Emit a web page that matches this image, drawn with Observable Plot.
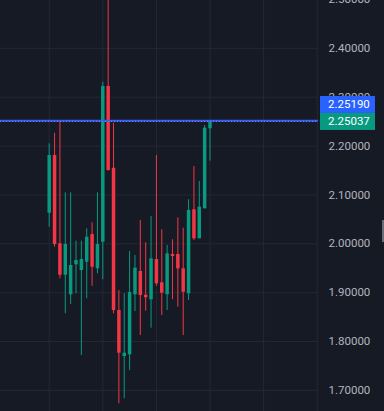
<!DOCTYPE html>
<html><head><meta charset="utf-8">
<script src="https://cdn.jsdelivr.net/npm/d3@7"></script>
<script src="https://cdn.jsdelivr.net/npm/@observablehq/plot@0.6"></script>
<style>
html,body{margin:0;padding:0;background:#161a25;}
#chart{position:relative;width:384px;height:411px;overflow:hidden;}
#handle{position:absolute;left:382px;top:220px;width:2px;height:22px;background:#6a6d78;}
</style></head><body><div id="chart"><div id="handle"></div></div>
<script>
// OHLC candles (oldest to newest)
const opens  = [2.0626,2.1807,2.0000,1.9357,1.8956,1.9570,1.9454,1.9623,2.0190,1.9488,
                2.0033,2.3219,2.1547,1.8635,1.7693,1.7728,1.8956,1.9433,1.8948,1.8854,
                1.9679,1.9202,1.8956,1.9781,1.9781,1.9488,1.8977,2.0696,2.0102,2.0716,2.2354];
const highs  = [2.2047,2.2264,2.2503,2.1044,2.1044,2.0053,2.0053,2.0307,2.0430,2.1044,
                2.3307,2.5200,2.2468,1.9044,1.8977,1.9842,1.9761,2.0477,2.0020,2.0559,
                2.1807,2.0287,1.9965,2.0082,2.0532,2.0319,2.0901,2.1582,2.1275,2.2421,2.2519];
const lows   = [2.0340,1.9930,1.9284,1.8567,1.8758,1.8977,1.7714,1.8874,1.9132,1.9386,
                1.9263,2.1486,1.8567,1.6725,1.6828,1.7407,1.8614,1.8123,1.8621,1.8273,
                1.9132,1.8533,1.8635,1.8854,1.8702,1.8123,1.8840,2.0068,2.0102,2.0716,2.1690];
const closes = [2.1807,1.9986,1.9357,1.9986,1.9556,1.9658,1.9679,2.0135,1.9521,1.9986,
                2.3219,2.1500,1.8635,1.7761,1.7761,1.9003,1.9501,1.8942,1.8895,1.9693,
                1.9181,1.8989,1.9795,1.9740,1.9488,1.9009,2.0682,2.0102,2.0749,2.2366,2.25037];
const priceTicks = [1.7,1.8,1.9,2.0,2.1,2.2,2.3,2.4,2.5];
const timeGrid = [0,10,20,30,40,50];
const lastPrice = 2.25037;
const alertPrice = 2.25190;

const UP = "#089981", DOWN = "#f23645";
const candles = opens.map((o,i)=>({i, open:o, high:highs[i], low:lows[i], close:closes[i], up: closes[i] >= o}));
const ups = candles.filter(d=>d.up), downs = candles.filter(d=>!d.up);

const plot = Plot.plot({
  width: 384, height: 411,
  marginLeft: 0, marginRight: 66, marginTop: 0, marginBottom: 0,
  style: {background: "#161a25", color: "#b2b5be", fontFamily: "Roboto, sans-serif", fontSize: "11.5px"},
  x: {type: "linear", domain: [-9.086, 50.24], axis: null},
  y: {type: "linear", domain: [1.65678, 2.49795], axis: null},
  marks: [
    Plot.ruleY(priceTicks, {stroke: "#242834", strokeWidth: 1}),
    Plot.ruleX(timeGrid, {stroke: "#242834", strokeWidth: 1}),
    Plot.axisY(priceTicks, {anchor: "right", tickSize: 0, tickPadding: 10, label: null,
      tickFormat: d => d.toFixed(5), fontSize: 11.5}),
    Plot.ruleX(ups, {x: "i", y1: "low", y2: "high", stroke: UP, strokeWidth: 1}),
    Plot.ruleX(downs, {x: "i", y1: "low", y2: "high", stroke: DOWN, strokeWidth: 1}),
    Plot.ruleX(ups, {x: "i", y1: "open", y2: "close", stroke: UP, strokeWidth: 3.5}),
    Plot.ruleX(downs, {x: "i", y1: "open", y2: "close", stroke: DOWN, strokeWidth: 3.5}),
    Plot.ruleY([alertPrice], {stroke: "#2962ff", strokeWidth: 2}),
    Plot.ruleY([lastPrice], {stroke: "#c46f9d", strokeWidth: 1, strokeDasharray: "1 2"})
  ]
});

// price-scale labels, positioned through Plot's y scale
const ys = plot.scale("y");
const yf = d3.scaleLinear(ys.domain, ys.range);
const boxX = 384 - 66 + 2, boxW = 55, boxH = 17;
const greenTop = yf(lastPrice) - 8;
const labels = [
  {text: alertPrice.toFixed(5), fill: "#2962ff", top: greenTop - boxH},
  {text: lastPrice.toFixed(5), fill: UP, top: greenTop}
];
const g = d3.select(plot).append("g");
labels.forEach(l => {
  g.append("rect").attr("x", boxX).attr("y", l.top).attr("width", boxW).attr("height", boxH).attr("fill", l.fill);
  g.append("text").attr("x", boxX + 8).attr("y", l.top + boxH/2).attr("dy", "0.35em")
    .attr("text-anchor", "start")
    .attr("fill", "#ffffff").attr("font-size", 11.5).attr("font-family", "Roboto, sans-serif").text(l.text);
});

document.getElementById("chart").prepend(plot);
</script>
</body></html>
